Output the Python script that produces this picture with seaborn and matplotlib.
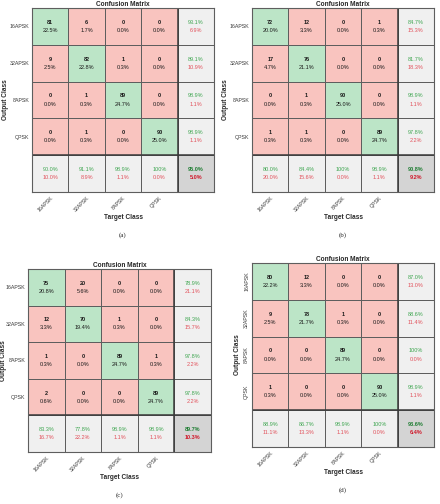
import numpy as np
import matplotlib
matplotlib.use("Agg")
import matplotlib.pyplot as plt
import seaborn as sns
from matplotlib.colors import ListedColormap

classes = ["16APSK", "32APSK", "8APSK", "QPSK"]

# rows = output class, columns = target class
counts_a = [[81, 6, 0, 0],
            [9, 82, 1, 0],
            [0, 1, 89, 0],
            [0, 1, 0, 90]]
counts_b = [[72, 12, 0, 1],
            [17, 76, 0, 0],
            [0, 1, 90, 0],
            [1, 1, 0, 89]]
counts_c = [[75, 20, 0, 0],
            [12, 70, 1, 0],
            [1, 0, 89, 1],
            [2, 0, 0, 89]]
counts_d = [[80, 12, 0, 0],
            [9, 78, 1, 0],
            [0, 0, 89, 0],
            [1, 0, 0, 90]]
panel_tags = ["(a)", "(b)", "(c)", "(d)"]

sns.set_style("white")
plt.rcParams["font.family"] = ["Liberation Sans", "DejaVu Sans"]

GREEN_CELL = "#bce5c7"
RED_CELL = "#f9c4bf"
GRAY_CELL = "#f0f0f0"
DARK_CELL = "#d4d4d4"
GREEN_TXT = "#3fa651"
RED_TXT = "#e2525c"
cell_cmap = ListedColormap([RED_CELL, GREEN_CELL, GRAY_CELL, DARK_CELL])


def fmt(p):
    return "100%" if round(p, 1) == 100 else f"{p:.1f}%"


def draw_matrix(ax, counts, tag, rot_y=False, ylab_x=-0.148):
    cm = np.array(counts)
    n = len(classes)
    total = cm.sum()

    kind = np.zeros((n + 1, n + 1))
    kind[np.arange(n), np.arange(n)] = 1
    kind[n, :] = 2
    kind[:, n] = 2
    kind[n, n] = 3
    sns.heatmap(kind, cmap=cell_cmap, vmin=-0.5, vmax=3.5, cbar=False,
                linewidths=0.6, linecolor="#5e5e5e", xticklabels=False,
                yticklabels=False, ax=ax)

    fs = 4.0
    for i in range(n):
        for j in range(n):
            ax.text(j + 0.5, i + 0.39, str(cm[i, j]), ha="center", va="center",
                    fontsize=fs, fontweight="bold", color="#1a1a1a")
            ax.text(j + 0.5, i + 0.61, fmt(cm[i, j] / total * 100), ha="center",
                    va="center", fontsize=fs, color="#1a1a1a")

    # per-row (output class) precision
    for i in range(n):
        p = cm[i, i] / cm[i].sum() * 100
        ax.text(n + 0.5, i + 0.39, fmt(p), ha="center", va="center",
                fontsize=fs, color=GREEN_TXT)
        ax.text(n + 0.5, i + 0.61, fmt(100 - p), ha="center", va="center",
                fontsize=fs, color=RED_TXT)
    # per-column (target class) recall
    for j in range(n):
        p = cm[j, j] / cm[:, j].sum() * 100
        ax.text(j + 0.5, n + 0.39, fmt(p), ha="center", va="center",
                fontsize=fs, color=GREEN_TXT)
        ax.text(j + 0.5, n + 0.61, fmt(100 - p), ha="center", va="center",
                fontsize=fs, color=RED_TXT)
    acc = np.trace(cm) / total * 100
    ax.text(n + 0.5, n + 0.39, fmt(acc), ha="center", va="center",
            fontsize=fs, fontweight="bold", color="#1e7d32")
    ax.text(n + 0.5, n + 0.61, fmt(100 - acc), ha="center", va="center",
            fontsize=fs, fontweight="bold", color="#d0182a")

    ax.axhline(n, color="#3a3a3a", lw=1.1)
    ax.axvline(n, color="#3a3a3a", lw=1.1)
    for s in ax.spines.values():
        s.set_visible(True)
        s.set_color("#5e5e5e")
        s.set_linewidth(0.8)

    ax.set_xticks(np.arange(n) + 0.5)
    ax.set_xticklabels(classes, rotation=45, ha="right", rotation_mode="anchor")
    ax.set_yticks(np.arange(n) + 0.5)
    if rot_y:
        ax.set_yticklabels(classes, rotation=90, va="center")
    else:
        ax.set_yticklabels(classes, rotation=0)
    ax.tick_params(length=0, labelsize=3.8, colors="#3a3a3a", pad=2)

    ax.set_title("Confusion Matrix", fontsize=4.7, fontweight="bold", pad=1.5)
    ax.text(0.5, -0.137, "Target Class", transform=ax.transAxes, ha="center",
            va="center", fontsize=4.7, fontweight="bold", color="#2a2a2a")
    ax.text(ylab_x, 0.5, "Output Class", transform=ax.transAxes, ha="center",
            va="center", rotation=90, fontsize=4.7, fontweight="bold",
            color="#2a2a2a")
    ax.text(0.5, -0.237, tag, transform=ax.transAxes, ha="center", va="center",
            fontsize=5, family=["Liberation Serif", "DejaVu Serif"])


fig = plt.figure(figsize=(4.4, 5.04), dpi=100)
W, H = 440, 504
boxes = [(32, 8, 214, 192), (252, 8, 434, 192),
         (28, 269, 211, 452), (252, 263, 434, 447)]
all_counts = [counts_a, counts_b, counts_c, counts_d]
ylab_pos = [-0.148, -0.148, -0.132, -0.077]
for k, (x0, y0, x1, y1) in enumerate(boxes):
    ax = fig.add_axes([x0 / W, 1 - y1 / H, (x1 - x0) / W, (y1 - y0) / H])
    draw_matrix(ax, all_counts[k], panel_tags[k], rot_y=(k == 3),
                ylab_x=ylab_pos[k])

fig.savefig("out.png", dpi=100)
